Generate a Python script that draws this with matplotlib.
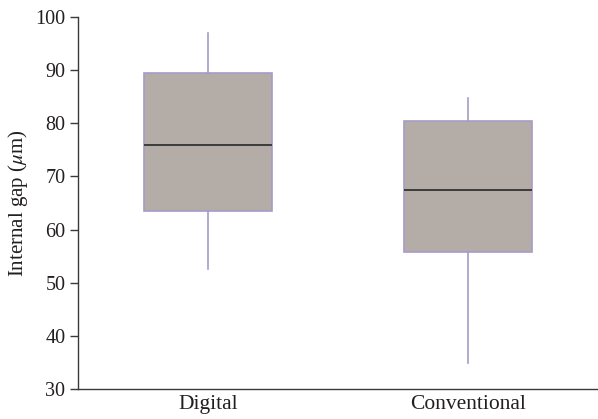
import matplotlib.pyplot as plt

groups = ["Digital", "Conventional"]
whisker_low = [52.5, 34.9]
q1 = [63.5, 55.8]
median = [76.0, 67.5]
q3 = [89.5, 80.4]
whisker_high = [97.0, 84.7]

plt.rcParams["font.family"] = ["Liberation Serif", "DejaVu Serif"]
plt.rcParams["mathtext.fontset"] = "stix"

fig = plt.figure(figsize=(5.98, 4.19), dpi=100)
ax = fig.add_axes([78 / 598, 1 - 389 / 419, 520 / 598, 372 / 419])

stats = []
for i, name in enumerate(groups):
    stats.append({
        "label": name,
        "whislo": whisker_low[i],
        "q1": q1[i],
        "med": median[i],
        "q3": q3[i],
        "whishi": whisker_high[i],
        "fliers": [],
    })

edge = "#a79bc8"
ax.bxp(
    stats,
    positions=[1, 2],
    widths=0.49,
    patch_artist=True,
    showcaps=False,
    showfliers=False,
    boxprops=dict(facecolor="#b4aca7", edgecolor=edge, linewidth=1.2),
    whiskerprops=dict(color=edge, linewidth=1.2),
    medianprops=dict(color="#333333", linewidth=1.3),
)

ax.set_xlim(0.5, 2.5)
ax.set_ylim(30, 100)
ax.set_yticks(range(30, 101, 10))
ax.set_ylabel(r"Internal gap ($\mu$m)", fontsize=15, color="#231f20")
ax.yaxis.set_label_coords(-0.093, 0.5)

for side in ["top", "right"]:
    ax.spines[side].set_visible(False)
for side in ["left", "bottom"]:
    ax.spines[side].set_color("#3a3a3a")
    ax.spines[side].set_linewidth(1.0)

ax.tick_params(axis="y", direction="out", length=6, width=1.0,
               color="#3a3a3a", labelsize=14.5, labelcolor="#231f20", pad=3)
ax.tick_params(axis="x", length=0, labelsize=15.5, labelcolor="#231f20", pad=4)

fig.savefig("out.png", dpi=100)
